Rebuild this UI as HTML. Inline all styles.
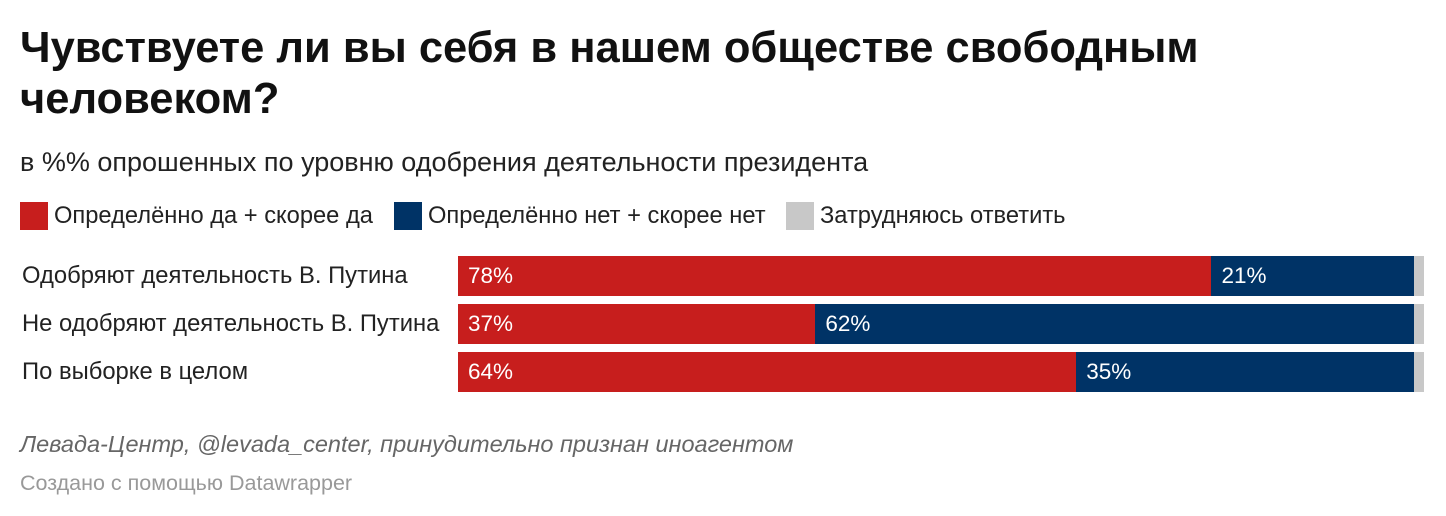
<!DOCTYPE html>
<html><head><meta charset="utf-8"><style>
body{margin:0;width:1446px;height:516px;background:#fff;font-family:"Liberation Sans",sans-serif;position:relative;overflow:hidden}
.t{position:absolute;white-space:nowrap}
#title{left:20px;top:23px;font-size:43.5px;font-weight:bold;line-height:51px;color:#111}
#sub{left:20px;top:147px;font-size:27px;color:#222}
.leg{position:absolute;top:202px;height:28px;font-size:23.7px;color:#222;line-height:28px;white-space:nowrap}
.sw{display:inline-block;width:28px;height:28px;vertical-align:top;margin-right:6px}
.lab{position:absolute;left:22px;font-size:23.8px;color:#222;line-height:40px}
.seg{position:absolute;height:40px;color:#fff;font-size:22.5px;line-height:40px;box-sizing:border-box;padding-left:10px;overflow:hidden}
#src{left:20px;top:431px;font-size:23.5px;font-style:italic;color:#666}
#dw{left:20px;top:471px;font-size:21.5px;color:#999}
</style></head><body>
<div class="t" id="title">Чувствуете ли вы себя в нашем обществе свободным<br>человеком?</div>
<div class="t" id="sub">в %% опрошенных по уровню одобрения деятельности президента</div>
<div class="leg" style="left:20px"><span class="sw" style="background:#c71e1d"></span>Определённо да + скорее да</div>
<div class="leg" style="left:394px"><span class="sw" style="background:#003366"></span>Определённо нет + скорее нет</div>
<div class="leg" style="left:786px"><span class="sw" style="background:#c8c8c8"></span>Затрудняюсь ответить</div>
<div id="chart"></div>
<div class="t" id="src">Левада-Центр, @levada_center, принудительно признан иноагентом</div>
<div class="t" id="dw">Создано с помощью Datawrapper</div>
<script>
const categories=["Одобряют деятельность В. Путина","Не одобряют деятельность В. Путина","По выборке в целом"];
const yesValues=[78,37,64];
const noValues=[21,62,35];
const unsureValues=[1,1,1];
const x0=458,W=966,y0=256,step=48;
const xs=v=>v/100*W;
const chart=document.getElementById('chart');
categories.forEach((c,i)=>{
  const y=y0+i*step;
  const l=document.createElement('div');
  l.className='lab';l.style.top=y+'px';l.textContent=c;
  
  
  chart.appendChild(l);
  const vals=[yesValues[i],noValues[i],unsureValues[i]];
  const cols=['#c71e1d','#003366','#c8c8c8'];
  let acc=0;
  vals.forEach((v,j)=>{
    const s=document.createElement('div');
    s.className='seg';
    s.style.left=(x0+xs(acc))+'px';s.style.top=y+'px';
    s.style.width=xs(v)+'px';s.style.background=cols[j];
    if(j<2)s.textContent=v+'%';
    
    
    chart.appendChild(s);
    acc+=v;
  });
});
</script>
</body></html>
